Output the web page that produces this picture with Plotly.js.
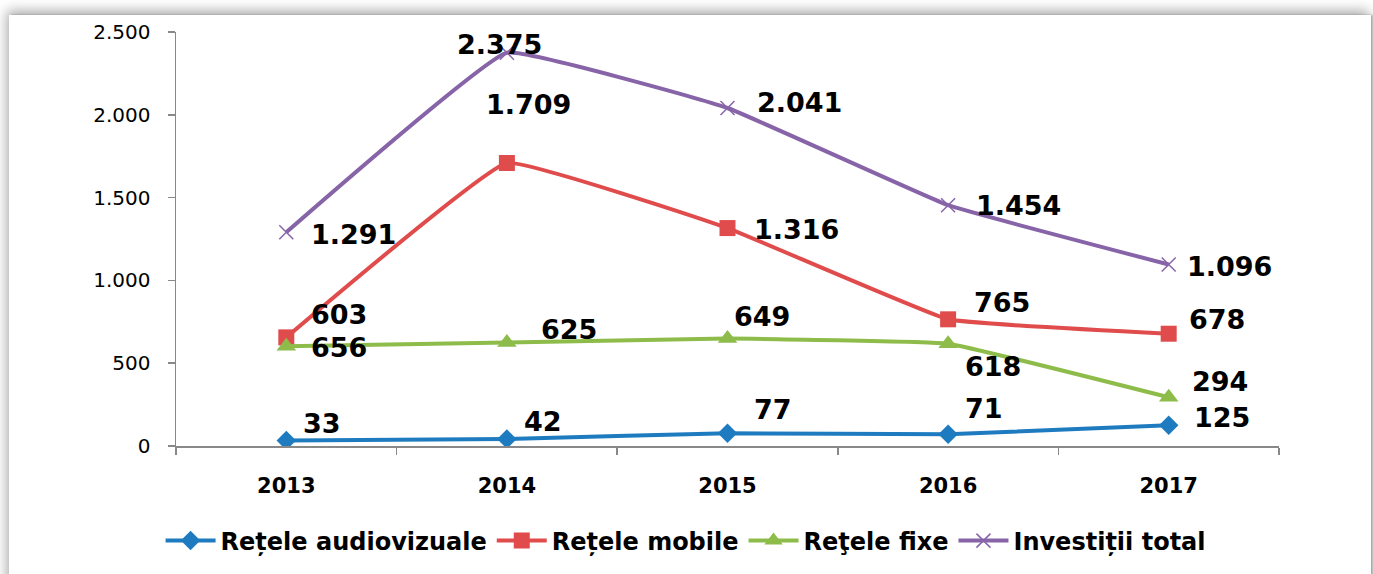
<!DOCTYPE html>
<html>
<head>
<meta charset="utf-8">
<script src="https://cdn.plot.ly/plotly-3.0.1.min.js"></script>
<style>
  html, body { margin: 0; padding: 0; width: 1373px; height: 574px; overflow: hidden; background: #ffffff; }
  #frame { position: absolute; left: 9px; top: 15px; width: 1362px; height: 580px;
           background: #ffffff; box-shadow: -2px -4px 12px rgba(0,0,0,0.35), 2px 0 2px rgba(0,0,0,0.25); }
  #chart { position: absolute; left: 0; top: 0; width: 1362px; height: 559px; }
</style>
</head>
<body>
<div id="frame"><div id="chart"></div></div>
<script>
// ---- data ----
const years = ["2013", "2014", "2015", "2016", "2017"];
const audiovizuale = [33, 42, 77, 71, 125];
const mobile = [656, 1709, 1316, 765, 678];
const fixe = [603, 625, 649, 618, 294];
const total = [1291, 2375, 2041, 1454, 1096];
const seriesNames = ["Rețele audiovizuale", "Rețele mobile", "Reţele fixe", "Investiții total"];
const yTicks = [0, 500, 1000, 1500, 2000, 2500];

// ---- styles ----
const colors = ["#1F7BC0", "#E04C4C", "#8DBC4A", "#8764A8"];
const symbols = ["diamond", "square", "triangle-up", "x-thin-open"];
const msizes = [15, 16, 17, 14];

// label offsets (pixels): left edge shift, vertical shift (up positive)
const labelOffsets = [
  [[18,17],[18,18],[27,24],[18,26],[26,8]],     // audiovizuale
  [[26,-10],[-20,58],[27,-1],[27,17],[21,14]],  // mobile
  [[26,32],[35,13],[7,22],[18,-23],[24,16]],    // fixe
  [[26,-2],[-49,8],[30,6],[29,0],[19,-2]]       // total
];
const PAD = 3;

function fmt(v) {
  const s = String(v);
  return s.length > 3 ? s.slice(0, s.length - 3) + "." + s.slice(s.length - 3) : s;
}

const allSeries = [audiovizuale, mobile, fixe, total];
const traces = allSeries.map((vals, i) => ({
  type: "scatter",
  mode: "lines+markers",
  name: seriesNames[i],
  x: years,
  y: vals,
  line: { color: colors[i], width: 4, shape: "spline", smoothing: 0.25 },
  marker: {
    symbol: symbols[i],
    size: msizes[i],
    color: colors[i],
    line: { color: colors[i], width: i === 3 ? 1.5 : 0 }
  },
  hoverinfo: "skip"
}));

const annotations = [];
allSeries.forEach((vals, i) => {
  vals.forEach((v, j) => {
    annotations.push({
      x: j, y: v, xref: "x", yref: "y",
      text: "<b>" + fmt(v) + "</b>", showarrow: false,
      xanchor: "left", yanchor: "middle",
      xshift: labelOffsets[i][j][0] - PAD, yshift: labelOffsets[i][j][1],
      font: { family: "DejaVu Sans", size: 27, color: "#000000" }
    });
  });
});

const layout = {
  width: 1362, height: 559,
  margin: { l: 167, r: 92, t: 17, b: 127 },
  paper_bgcolor: "#ffffff",
  plot_bgcolor: "#ffffff",
  separators: ",.",
  showlegend: true,
  legend: {
    orientation: "h",
    x: 0.462, xanchor: "center",
    y: -0.2265, yanchor: "middle",
    font: { family: "DejaVu Sans", size: 24, color: "#000000", weight: "bold" },
    itemwidth: 50,
    tracegroupgap: 0
  },
  xaxis: {
    type: "category",
    range: [-0.5, 4.5],
    showline: true, linecolor: "#888888", linewidth: 1.5,
    ticks: "outside", tickson: "boundaries", ticklen: 7, tickcolor: "#888888", tickwidth: 1.5,
    showgrid: false, zeroline: false,
    tickfont: { family: "DejaVu Sans", size: 21, color: "#000000", weight: "bold" },
    ticklabelstandoff: 20,
    fixedrange: true
  },
  yaxis: {
    range: [0, 2500],
    tickvals: yTicks,
    tickformat: ",d",
    showline: true, linecolor: "#888888", linewidth: 1.5,
    ticks: "outside", ticklen: 7, tickcolor: "#888888", tickwidth: 1.5,
    showgrid: false, zeroline: false,
    tickfont: { family: "DejaVu Sans", size: 20, color: "#000000" },
    ticklabelstandoff: 13,
    fixedrange: true
  },
  annotations: annotations
};

Plotly.newPlot("chart", traces, layout, { displayModeBar: false, staticPlot: true });
</script>
</body>
</html>
